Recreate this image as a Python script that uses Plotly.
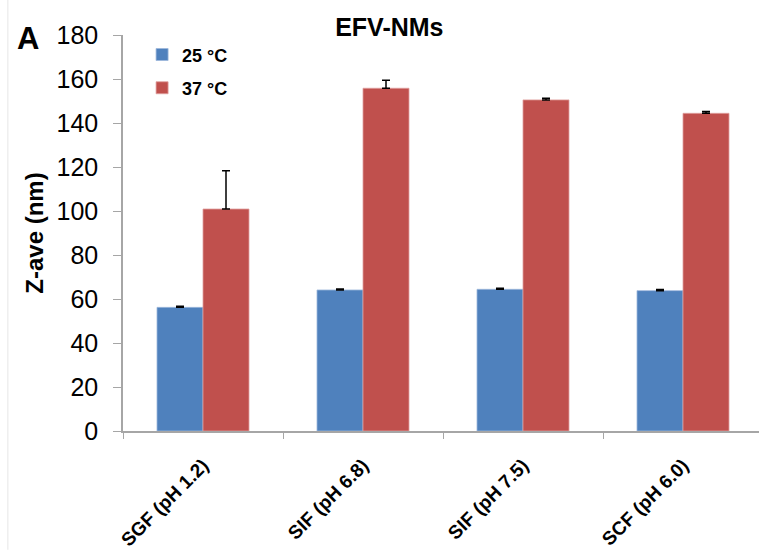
import plotly.graph_objects as go

categories = ["SGF (pH 1.2)", "SIF (pH 6.8)", "SIF (pH 7.5)", "SCF (pH 6.0)"]
z25 = [56.2, 64.1, 64.4, 63.8]
z25_err = [0.5, 0.5, 0.5, 0.5]
z37 = [100.9, 155.8, 150.5, 144.4]
z37_err = [17.4, 3.6, 0.8, 0.8]

font_family = "Liberation Sans, Arial, sans-serif"

fig = go.Figure()
fig.add_trace(go.Bar(
    x=categories, y=z25, name="<b>25 °C</b>", marker_color="#4F81BD",
    marker_line=dict(color="#9db7dc", width=0.8),
    error_y=dict(type="data", array=z25_err, arrayminus=[0]*4, symmetric=False,
                 color="black", thickness=1.5, width=4),
    legend="legend",
))
fig.add_trace(go.Bar(
    x=categories, y=z37, name="<b>37 °C</b>", marker_color="#C0504D",
    marker_line=dict(color="#e0a09e", width=0.8),
    error_y=dict(type="data", array=z37_err, arrayminus=[0]*4, symmetric=False,
                 color="black", thickness=1.5, width=4),
    legend="legend2",
))

fig.update_layout(
    width=759, height=550,
    margin=dict(l=123, r=0, t=35, b=119),
    paper_bgcolor="white", plot_bgcolor="white",
    barmode="group", bargap=0.425, bargroupgap=0,
    font=dict(family=font_family, color="black"),
    title=dict(text="<b>EFV-NMs</b>", x=0.513, xanchor="center", y=0.95, yanchor="middle",
               font=dict(size=25, family=font_family, color="black")),
    legend=dict(x=0.03, y=0.95, xanchor="left", yanchor="middle",
                font=dict(size=18, family=font_family, color="black"),
                bgcolor="rgba(0,0,0,0)", itemwidth=30, tracegroupgap=0),
    legend2=dict(x=0.03, y=0.866, xanchor="left", yanchor="middle",
                 font=dict(size=18, family=font_family, color="black"),
                 bgcolor="rgba(0,0,0,0)", itemwidth=30, tracegroupgap=0),
    showlegend=True,
)

fig.update_xaxes(
    type="category", range=[-0.5, 3.475],
    showline=True, linecolor="#a6a6a6", linewidth=1.5,
    ticks="outside", tickson="boundaries", ticklen=6, tickcolor="#a6a6a6",
    tickangle=-45, tickfont=dict(size=19, family=font_family, color="black"),
    tickprefix="<b>", ticksuffix="</b>", ticklabelstandoff=14,
    showgrid=False,
)
fig.update_yaxes(
    range=[0, 180], dtick=20, tick0=0,
    showline=True, linecolor="#a6a6a6", linewidth=1.5,
    ticks="outside", ticklen=8, tickcolor="#a6a6a6",
    tickfont=dict(size=25, family=font_family, color="black"), ticklabelstandoff=10,
    showgrid=False, zeroline=False,
    title=dict(text="<b>Z-ave (nm)</b>", font=dict(size=24, family=font_family, color="black"), standoff=6),
)

fig.add_annotation(text="<b>A</b>", xref="paper", yref="paper", x=-0.17, y=0.99,
                   xanchor="left", yanchor="middle", showarrow=False,
                   font=dict(size=31, family=font_family, color="black"))
fig.add_shape(type="line", xref="paper", yref="paper", x0=-0.181, x1=-0.181, y0=-0.3, y1=1.09,
              line=dict(color="#e6e6e6", width=1))

fig.write_html("out.html")
